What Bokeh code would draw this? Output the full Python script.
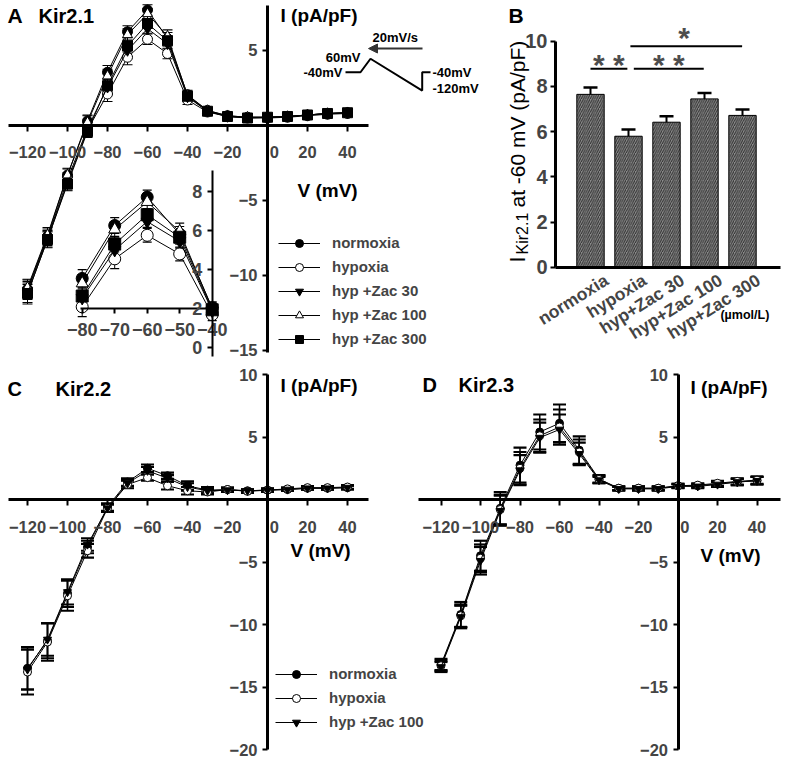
import math
from bokeh.plotting import figure
from bokeh.models import (ColumnDataSource, LinearAxis, FixedTicker, Range1d, Whisker,
                          TeeHead, Label, Legend, LegendItem, Arrow, NormalHead)
from bokeh.layouts import column, row
from bokeh.embed import file_html
from bokeh.resources import INLINE
from bokeh.core.properties import value

S = 1.0
FONT = "Liberation Sans"
NB = "\u00a0"

# ---------------- data ----------------
voltage = [-120, -110, -100, -90, -80, -70, -60, -50, -40, -30, -20, -10, 0, 10, 20, 30, 40]

# Panel A  (Kir2.1)
a_labels = ["normoxia", "hypoxia", "hyp +Zac 30", "hyp +Zac 100", "hyp +Zac 300"]
a_normoxia = [-10.9, -7.4, -3.3, 0.3, 3.55, 6.25, 7.7, 5.8, 2.05, 1.0, 0.65, 0.55, 0.55, 0.6, 0.7, 0.8, 0.85]
a_hypoxia = [-11.2, -7.6, -3.8, -0.3, 2.1, 4.55, 5.75, 4.8, 1.7, 0.9, 0.6, 0.5, 0.5, 0.55, 0.65, 0.75, 0.8]
a_zac30 = [-11.0, -7.5, -3.6, -0.2, 2.55, 5.0, 6.45, 5.45, 1.9, 0.95, 0.6, 0.55, 0.55, 0.6, 0.7, 0.8, 0.85]
a_zac100 = [-10.8, -7.3, -3.3, 0.2, 3.3, 6.05, 7.45, 5.95, 2.0, 1.0, 0.65, 0.55, 0.55, 0.6, 0.7, 0.8, 0.85]
a_zac300 = [-11.2, -7.6, -3.9, -0.4, 2.65, 5.3, 6.8, 5.65, 1.95, 0.95, 0.6, 0.5, 0.55, 0.6, 0.7, 0.8, 0.85]
a_normoxia_err = [0.6, 0.5, 0.45, 0.4, 0.45, 0.4, 0.35, 0.4, 0.3, 0.2, 0.15, 0.15, 0.15, 0.15, 0.15, 0.15, 0.15]
a_hypoxia_err = [0.7, 0.55, 0.5, 0.45, 0.5, 0.5, 0.35, 0.35, 0.3, 0.2, 0.15, 0.15, 0.15, 0.15, 0.15, 0.15, 0.15]
a_zac30_err = [0.6, 0.5, 0.45, 0.4, 0.4, 0.4, 0.3, 0.35, 0.25, 0.2, 0.15, 0.15, 0.15, 0.15, 0.15, 0.15, 0.15]
a_zac100_err = [0.55, 0.5, 0.4, 0.45, 0.45, 0.4, 0.35, 0.42, 0.3, 0.2, 0.15, 0.15, 0.15, 0.15, 0.15, 0.15, 0.15]
a_zac300_err = [0.6, 0.5, 0.45, 0.4, 0.4, 0.4, 0.3, 0.35, 0.3, 0.2, 0.15, 0.15, 0.15, 0.15, 0.15, 0.15, 0.15]
inset_voltage = [-80, -70, -60, -50, -40]

# voltage-protocol sketch (panel A coordinates)
protocol_x = [39, 46.5, 51.5, 77.35, 77.35, 81.5]
protocol_y = [3.55, 3.55, 4.45, 2.33, 3.55, 3.55]

# Panel B  (I Kir2.1 at -60 mV)
b_groups = ["normoxia", "hypoxia", "hyp+Zac 30", "hyp+Zac 100", "hyp+Zac 300"]
b_means = [7.65, 5.8, 6.42, 7.45, 6.72]
b_sems = [0.3, 0.3, 0.26, 0.26, 0.26]
b_sig_x0 = [1.0, 2.14, 2.05]
b_sig_x1 = [1.97, 3.98, 4.99]
b_sig_y = [8.78, 8.78, 9.78]
b_sig_text = ["* *", "* *", "*"]
b_sig_tx = [1.48, 3.06, 3.46]
b_sig_ty = [8.97, 8.97, 10.16]

# Panel C (Kir2.2)
c_labels = ["normoxia", "hypoxia", "hyp +Zac 100"]
c_normoxia = [-13.5, -11.3, -7.5, -3.8, -0.6, 1.4, 2.5, 1.9, 1.1, 0.75, 0.8, 0.7, 0.75, 0.8, 0.9, 0.9, 0.95]
c_hypoxia = [-13.8, -11.4, -7.7, -4.1, -0.7, 1.2, 1.75, 1.1, 0.7, 0.6, 0.8, 0.65, 0.75, 0.85, 0.95, 0.95, 1.0]
c_zac100 = [-13.6, -11.2, -7.4, -3.6, -0.7, 1.3, 2.3, 1.7, 1.0, 0.7, 0.75, 0.7, 0.75, 0.8, 0.9, 0.9, 0.95]
c_normoxia_err = [1.7, 1.4, 1.1, 0.5, 0.3, 0.3, 0.3, 0.25, 0.35, 0.25, 0.15, 0.12, 0.12, 0.12, 0.12, 0.12, 0.15]
c_hypoxia_err = [1.8, 1.5, 1.2, 0.55, 0.3, 0.3, 0.25, 0.3, 0.3, 0.2, 0.15, 0.12, 0.12, 0.12, 0.12, 0.12, 0.15]
c_zac100_err = [1.6, 1.3, 1.0, 0.5, 0.3, 0.25, 0.3, 0.25, 0.3, 0.2, 0.15, 0.12, 0.12, 0.12, 0.12, 0.12, 0.15]

# Panel D (Kir2.3)
d_normoxia = [-13.2, -9.2, -4.5, -0.7, 2.75, 5.4, 6.1, 3.95, 1.65, 0.9, 0.9, 0.9, 1.1, 1.1, 1.25, 1.4, 1.5]
d_hypoxia = [-13.3, -9.3, -4.7, -0.8, 2.5, 5.1, 5.8, 3.8, 1.6, 0.9, 0.9, 0.9, 1.1, 1.15, 1.3, 1.45, 1.55]
d_zac100 = [-13.4, -9.4, -4.9, -0.9, 2.35, 4.95, 5.6, 3.65, 1.55, 0.85, 0.85, 0.85, 1.05, 1.05, 1.2, 1.4, 1.5]
d_normoxia_err = [0.45, 1.0, 1.2, 1.3, 1.4, 1.4, 1.5, 1.1, 0.3, 0.15, 0.15, 0.15, 0.15, 0.15, 0.2, 0.25, 0.3]
d_hypoxia_err = [0.4, 0.9, 1.1, 1.2, 1.3, 1.3, 1.4, 1.0, 0.3, 0.15, 0.15, 0.15, 0.15, 0.15, 0.2, 0.25, 0.3]
d_zac100_err = [0.4, 0.9, 1.1, 1.2, 1.2, 1.2, 1.2, 0.9, 0.25, 0.15, 0.15, 0.15, 0.15, 0.15, 0.2, 0.25, 0.3]

x_ticks = [-120, -100, -80, -60, -40, -20, 0, 20, 40]


# ---------------- helpers ----------------
def fs(n):
    return f"{n * S:.1f}px"


def make_fig(w_px, h_px, xr, yr):
    p = figure(width=w_px, height=h_px,
               x_range=Range1d(*xr), y_range=Range1d(*yr),
               x_axis_type=None, y_axis_type=None, toolbar_location=None,
               output_backend="svg", min_border=0, outline_line_color=None,
               background_fill_color="white", border_fill_color="white")
    return p


def add_axis(p, dim, loc, ticks, bounds, width=3, font=16.5, tick_out=5, standoff=5,
             tick_w=2, overrides=None, orientation=None, xname="default", yname="default",
             line_color="black"):
    ax = LinearAxis(ticker=FixedTicker(ticks=ticks), fixed_location=loc, bounds=bounds,
                    axis_line_width=width, axis_line_color=line_color,
                    major_tick_line_width=tick_w, major_tick_out=tick_out, major_tick_in=0,
                    minor_tick_out=0, minor_tick_in=0,
                    major_label_text_font=FONT, major_label_text_font_style="bold",
                    major_label_text_font_size=fs(font), major_label_standoff=standoff,
                    x_range_name=xname, y_range_name=yname)
    if overrides:
        ax.major_label_overrides = overrides
    if orientation is not None:
        ax.major_label_orientation = orientation
    p.add_layout(ax, "below" if dim == "x" else "left")
    return ax


def lbl(p, x, y, text, size, bold=True, align="left", baseline="middle", angle=0,
        color="black", xname="default"):
    p.add_layout(Label(x=x, y=y, text=text, text_font=FONT, text_font_size=fs(size),
                       text_font_style="bold" if bold else "normal", text_align=align,
                       text_baseline=baseline, angle=angle, text_color=color,
                       x_range_name=xname))


def draw_series(p, xs, ys, errs, marker, fill, size, cap, cap_w, lw,
                xname="default", yname="default"):
    src = ColumnDataSource(dict(x=xs, y=ys,
                                lo=[y - e for y, e in zip(ys, errs)],
                                hi=[y + e for y, e in zip(ys, errs)]))
    r_line = p.line("x", "y", source=src, line_color="black", line_width=1,
                    x_range_name=xname, y_range_name=yname)
    w = Whisker(base="x", upper="hi", lower="lo", source=src, line_width=lw, line_color="black",
                upper_head=TeeHead(size=cap, line_width=cap_w, line_color="black"),
                lower_head=TeeHead(size=cap, line_width=cap_w, line_color="black"),
                x_range_name=xname, y_range_name=yname)
    p.add_layout(w)
    r_pt = p.scatter("x", "y", source=src, marker=marker, size=size, fill_color=fill,
                     line_color="black", line_width=1, x_range_name=xname, y_range_name=yname)
    return r_line, r_pt


def make_legend(p, items, x_ref, y_ref, font=15):
    leg = Legend(items=items, location=(x_ref * S, y_ref * S),
                 label_text_font=FONT, label_text_font_style="bold",
                 label_text_font_size=fs(font), glyph_width=round(42 * S), glyph_height=round(20 * S),
                 label_height=round(20 * S), spacing=round(3.5 * S), label_standoff=round(12 * S),
                 padding=0, margin=0, border_line_color=None, background_fill_alpha=0)
    p.add_layout(leg)


zero_label = {0: NB * 3 + "0"}
TOP_H, BOT_H = 362, 399

# ---------------- Panel A ----------------
pA = make_fig(500, TOP_H, (-133.5, 116.5), (-15.8, 8.333))
pA.extra_x_ranges = {"ix": Range1d(-105.14, 48.71)}
pA.extra_y_ranges = {"iy": Range1d(-0.74, 17.73)}

add_axis(pA, "x", 0, x_ticks, (-129.5, 50.5), width=3, font=16.5, tick_out=6, standoff=12,
         overrides=zero_label)
add_axis(pA, "y", 0, [-15, -10, -5, 5], (-15.15, 8.0), width=3, font=16.5, tick_out=5, standoff=5)

a_series = [a_normoxia, a_hypoxia, a_zac30, a_zac100, a_zac300]
a_errs = [a_normoxia_err, a_hypoxia_err, a_zac30_err, a_zac100_err, a_zac300_err]
a_markers = [("circle", "black"), ("circle", "white"), ("inverted_triangle", "black"),
             ("triangle", "white"), ("square", "black")]
a_items = []
for lab, ys, es, (mk, fc) in zip(a_labels, a_series, a_errs, a_markers):
    rl, rp = draw_series(pA, voltage, ys, es, mk, fc, 10, 10, 1.2, 1)
    a_items.append(LegendItem(label=lab, renderers=[rl, rp]))

# inset
idx = [voltage.index(v) for v in inset_voltage]
add_axis(pA, "x", 2, inset_voltage, (-80.5, -38.4), width=2, font=18, tick_out=5, standoff=9,
         xname="ix", yname="iy")
add_axis(pA, "y", -40, [0, 2, 4, 6, 8], (-0.45, 9.05), width=2, font=18, tick_out=5, standoff=5,
         xname="ix", yname="iy")
for ys, es, (mk, fc) in zip(a_series, a_errs, a_markers):
    draw_series(pA, inset_voltage, [ys[i] for i in idx], [es[i] for i in idx], mk, fc,
                12, 9, 1.2, 1, xname="ix", yname="iy")

make_legend(pA, a_items, 278, 13.25)

lbl(pA, -130, 7.33, "A", 21)
lbl(pA, -114.5, 7.33, "Kir2.1", 20)
lbl(pA, 6.5, 7.33, "I (pA/pF)", 19)
lbl(pA, 15, -4.33, "V (mV)", 19)

# protocol sketch
pA.line(protocol_x, protocol_y, line_color="black", line_width=2)
pA.add_layout(Arrow(end=NormalHead(size=9, fill_color="#333333", line_color="#333333"),
                    x_start=77.5, y_start=5.13, x_end=50.5, y_end=5.13,
                    line_width=2, line_color="#333333"))
lbl(pA, 52.5, 5.87, "20mV/s", 13)
lbl(pA, 46.5, 4.55, "60mV", 13, align="right")
lbl(pA, 37.5, 3.55, "-40mV", 13, align="right")
lbl(pA, 82.5, 3.55, "-40mV", 13)
lbl(pA, 82.5, 2.47, "-120mV", 13)

# ---------------- Panel B ----------------
pB = make_fig(285, TOP_H, (-1.3684, 6.1316), (-4.198, 11.798))
pB.extra_x_ranges = {"blab": Range1d(-1.3684 - 0.42, 6.1316 - 0.42)}
b_x = list(range(1, len(b_groups) + 1))
add_axis(pB, "y", 0.079, [0, 2, 4, 6, 8, 10], (0, 10), width=3, font=20, tick_out=5, standoff=3)
add_axis(pB, "x", 0, [], (0.079, 6.0), width=3, tick_out=0)
add_axis(pB, "x", 0, b_x, (0.5, 5.5), width=0, font=17.5, tick_out=0, tick_w=0, standoff=11,
         overrides={i: g for i, g in zip(b_x, b_groups)}, orientation=0.56,
         xname="blab", line_color=None)

srcB = ColumnDataSource(dict(x=b_x, top=b_means, hi=[m + s for m, s in zip(b_means, b_sems)]))
pB.vbar(x="x", top="top", bottom=0, width=0.72, source=srcB, fill_color="#8c8c8c",
        line_color="black", line_width=1, hatch_pattern="/", hatch_color="#2e2e2e",
        hatch_scale=4.5, hatch_weight=1)
pB.add_layout(Whisker(base="x", upper="hi", lower="top", source=srcB, line_width=2,
                      line_color="black", lower_head=None,
                      upper_head=TeeHead(size=14, line_width=2.5, line_color="black"),
                      level="overlay"))
pB.segment(x0=b_sig_x0, y0=b_sig_y, x1=b_sig_x1, y1=b_sig_y, line_color="black", line_width=2)
pB.text(x=b_sig_tx, y=b_sig_ty, text=b_sig_text, text_font=value(FONT),
        text_font_size=fs(30), text_font_style="bold", text_align="center",
        text_baseline="alphabetic", text_color="#4d4d4d")

lbl(pB, -1.158, 11.135, "B", 21)
lbl(pB, -0.921, 0.22, "I", 22, bold=False, angle=math.pi / 2)
lbl(pB, -0.79, 0.575, "Kir2.1", 16, bold=False, angle=math.pi / 2)
lbl(pB, -0.921, 2.65, "at -60 mV (pA/pF)", 21, bold=False, angle=math.pi / 2)
lbl(pB, 4.42, -2.12, "(\u00b5mol/L)", 12.5)

# ---------------- Panels C and D (one canvas, two x scales) ----------------
pCD = make_fig(785, BOT_H, (-133.5, 259.0), (-20.96, 10.96))
pCD.extra_x_ranges = {"dx": Range1d(-343.04, 54.43)}

# C axes
add_axis(pCD, "x", 0, x_ticks, (-129.5, 50.5), width=3, font=16.5, tick_out=6, standoff=12,
         overrides=zero_label)
add_axis(pCD, "y", 0, [-20, -15, -10, -5, 5, 10], (-20, 10), width=3, font=16.5, tick_out=5, standoff=5)
# D axes
add_axis(pCD, "x", 0, x_ticks, (-131.4, 51.9), width=3, font=16.5, tick_out=6, standoff=12,
         overrides=zero_label, xname="dx")
add_axis(pCD, "y", 0, [-20, -15, -10, -5, 5, 10], (-20, 10), width=3, font=16.5, tick_out=5,
         standoff=5, xname="dx")

cd_markers = [("circle", "black"), ("circle", "white"), ("inverted_triangle", "black")]
c_items = []
for lab, ys, es, (mk, fc) in zip(c_labels, [c_normoxia, c_hypoxia, c_zac100],
                                 [c_normoxia_err, c_hypoxia_err, c_zac100_err], cd_markers):
    rl, rp = draw_series(pCD, voltage, ys, es, mk, fc, 8, 13, 2.2, 1.5)
    c_items.append(LegendItem(label=lab, renderers=[rl, rp]))
for ys, es, (mk, fc) in zip([d_normoxia, d_hypoxia, d_zac100],
                            [d_normoxia_err, d_hypoxia_err, d_zac100_err], cd_markers):
    draw_series(pCD, voltage, ys, es, mk, fc, 8, 13, 2.2, 1.5, xname="dx")
make_legend(pCD, c_items, 275, 29.25)

lbl(pCD, -130, 8.88, "C", 20)
lbl(pCD, -106, 8.88, "Kir2.2", 20)
lbl(pCD, 6.5, 9.12, "I (pA/pF)", 19)
lbl(pCD, 11.5, -4.08, "V (mV)", 19)
lbl(pCD, -129.4, 9.16, "D", 20, xname="dx")
lbl(pCD, -111.1, 9.16, "Kir2.3", 20, xname="dx")
lbl(pCD, 6.33, 9.0, "I (pA/pF)", 19, xname="dx")
lbl(pCD, 11.4, -4.44, "V (mV)", 19, xname="dx")

layout = column(row(pA, pB), pCD)
open("out.html", "w").write(file_html(layout, INLINE))
